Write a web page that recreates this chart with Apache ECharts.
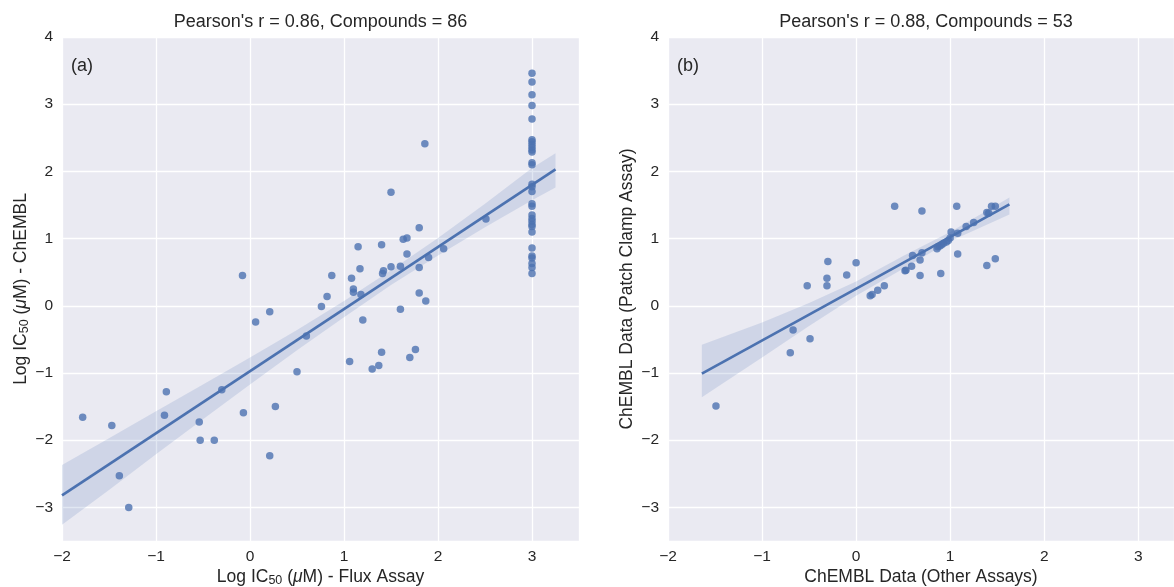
<!DOCTYPE html>
<html>
<head>
<meta charset="utf-8">
<script src="https://cdn.jsdelivr.net/npm/echarts@6/dist/echarts.min.js"></script>
<style>html,body{margin:0;padding:0;background:#fff}#c{width:1174px;height:587px}</style>
</head>
<body>
<div id="c"></div>
<script>
// ---------- Panel (a): Flux assay vs ChEMBL ----------
const aColumnY = [3.46, 3.33, 3.14, 2.98, 2.78, 2.47, 2.44, 2.40, 2.36, 2.32, 2.29, 2.13, 2.10,
  1.81, 1.77, 1.70, 1.52, 1.48, 1.35, 1.30, 1.26, 1.21, 1.18, 1.10, 0.86, 0.74, 0.71, 0.63, 0.57, 0.48];
const aColumnX = aColumnY.map(() => 3);
const aScatterX = [1.86, 1.50, 2.51, 1.80, 1.63, 1.67, 1.40, 1.15, 2.06, 1.67, 1.90, 1.80, 1.50, 1.60,
  1.42, 1.41, 1.17, 0.87, -0.08, 1.08, 1.10, 1.10, 1.18, 1.80, 0.82, 1.87,
  0.76, 0.21, 0.06, 1.60, 1.20, 0.60, 1.40, 1.76, 1.70, 1.06, 1.37, 1.30, 0.50, -0.30, -0.89, 0.27,
  -0.07, -0.91, -1.78, -1.47, -0.54, -0.53, -0.38, 0.21, -1.39, -1.29];
const aScatterY = [2.41, 1.69, 1.29, 1.16, 0.99, 1.01, 0.91, 0.88, 0.85, 0.77, 0.72, 0.57, 0.58, 0.59,
  0.52, 0.48, 0.55, 0.45, 0.45, 0.41, 0.25, 0.20, 0.17, 0.19, 0.14, 0.07,
  -0.01, -0.09, -0.24, -0.05, -0.21, -0.45, -0.69, -0.65, -0.77, -0.83, -0.89, -0.94, -0.98, -1.25, -1.28, -1.50,
  -1.59, -1.63, -1.66, -1.78, -1.73, -2.00, -2.00, -2.23, -2.53, -3.00];
const aLineX = [-2, 3.25];
const aLineY = [-2.82, 2.03];
const aBandX  = [-2, -1.5, -1, -0.5, 0, 0.5, 1, 1.5, 2, 2.5, 3, 3.25];
const aBandHi = [-2.37, -1.97, -1.57, -1.17, -0.77, -0.36, 0.07, 0.53, 1.01, 1.52, 2.05, 2.27];
const aBandLo = [-3.26, -2.74, -2.21, -1.69, -1.17, -0.66, -0.17, 0.31, 0.75, 1.17, 1.57, 1.76];

// ---------- Panel (b): Other assays vs Patch clamp ----------
const bX = [0.41, 0.70, 1.07, 1.44, 1.48, 1.39, 1.41, 1.25, 1.17, 1.01, 1.08, 1.00, 0.96, 0.91, 0.87, 0.86,
  0.70, 0.60, 1.08, 0.68, 1.48, 1.39, 0.59, 0.52, 0.53, 0.68, 0.90, -0.30, 0.00, -0.10, -0.31, -0.31,
  -0.52, 0.30, 0.23, 0.17, 0.15, -0.67, -0.49, -0.70, -1.49, 0.93, 0.98, 0.89];
const bY = [1.48, 1.41, 1.48, 1.48, 1.48, 1.39, 1.38, 1.24, 1.18, 1.10, 1.08, 1.01, 0.95, 0.91, 0.88, 0.85,
  0.79, 0.75, 0.77, 0.68, 0.70, 0.60, 0.59, 0.52, 0.53, 0.45, 0.48, 0.66, 0.64, 0.46, 0.41, 0.30,
  0.30, 0.30, 0.23, 0.17, 0.15, -0.36, -0.49, -0.70, -1.49, 0.93, 0.97, 0.89];
const bLineX = [-1.64, 1.63];
const bLineY = [-1.01, 1.51];
const bBandX  = [-1.64, -1, -0.5, 0, 0.5, 1, 1.63];
const bBandHi = [-0.58, -0.25, 0.04, 0.36, 0.74, 1.10, 1.61];
const bBandLo = [-1.36, -0.77, -0.30, 0.15, 0.55, 0.96, 1.36];

// ---------- Text ----------
const titleA = "Pearson's r = 0.86, Compounds = 86";
const titleB = "Pearson's r = 0.88, Compounds = 53";
const xNameA = "Log IC{sub|50} ({it|μ}M) - Flux Assay";
const yNameA = "Log IC{sub|50} ({it|μ}M) - ChEMBL";
const xNameB = "ChEMBL Data (Other Assays)";
const yNameB = "ChEMBL Data (Patch Clamp Assay)";

const FONT = '"Liberation Sans", Arial, sans-serif';
const TXT = '#262626';
const BLUE = '#4C72B0';

function pairs(xs, ys) { return xs.map((x, i) => [x, ys[i]]); }
function tickFmt(v) {
  if (Math.abs(v - Math.round(v)) > 1e-6) return '';
  v = Math.round(v);
  return v < 0 ? '\u2212' + Math.abs(v) : String(v);
}
const nameStyle = {
  fontFamily: FONT, fontSize: 17.5, color: TXT, lineHeight: 20,
  rich: {
    sub: { fontFamily: FONT, fontSize: 12.5, color: TXT, verticalAlign: 'bottom', lineHeight: 20 },
    it: { fontFamily: FONT, fontSize: 17.5, color: TXT, fontStyle: 'italic', lineHeight: 20 }
  }
};
function xAx(grid, max, name) {
  return {
    type: 'value', gridIndex: grid, min: -2, max: max, splitNumber: 6,
    axisLine: { show: false }, axisTick: { show: false },
    splitLine: { show: true, lineStyle: { color: '#ffffff', width: 1.3 } },
    axisLabel: { formatter: tickFmt, fontFamily: FONT, fontSize: 15.5, color: TXT, margin: 8 },
    name: name, nameLocation: 'middle', nameGap: 26, nameMoveOverlap: false, nameTextStyle: nameStyle
  };
}
function yAx(grid, name, gap) {
  return {
    type: 'value', gridIndex: grid, min: -3.5, max: 4, splitNumber: 8,
    axisLine: { show: false }, axisTick: { show: false },
    splitLine: { show: true, lineStyle: { color: '#ffffff', width: 1.3 } },
    axisLabel: { formatter: tickFmt, fontFamily: FONT, fontSize: 15.5, color: TXT, margin: 9 },
    name: name, nameLocation: 'middle', nameGap: gap, nameRotate: 90, nameTextStyle: nameStyle
  };
}
function band(xs, lo, hi, idx) {
  return {
    type: 'custom', xAxisIndex: idx, yAxisIndex: idx, silent: true, z: 3,
    data: xs.map((x, i) => [x, lo[i], hi[i]]),
    encode: { x: 0, y: [1, 2] },
    renderItem: function (params, api) {
      if (params.dataIndex !== 0) return;
      const pts = [];
      for (let i = 0; i < xs.length; i++) pts.push(api.coord([xs[i], hi[i]]));
      for (let i = xs.length - 1; i >= 0; i--) pts.push(api.coord([xs[i], lo[i]]));
      return { type: 'polygon', shape: { points: pts }, style: { fill: 'rgba(76,114,176,0.17)' } };
    }
  };
}
function scatter(data, idx) {
  return {
    type: 'scatter', xAxisIndex: idx, yAxisIndex: idx, data: data, symbolSize: 7.5, z: 2,
    itemStyle: { color: BLUE, opacity: 0.8 }, silent: true
  };
}
function regLine(xs, ys, idx) {
  return {
    type: 'line', xAxisIndex: idx, yAxisIndex: idx, data: pairs(xs, ys), showSymbol: false, z: 4,
    lineStyle: { color: BLUE, width: 2.7 }, silent: true
  };
}

const chart = echarts.init(document.getElementById('c'), null, { renderer: 'canvas' });
chart.setOption({
  animation: false,
  backgroundColor: '#ffffff',
  grid: [
    { left: 62, top: 37, width: 517, height: 504, show: true, backgroundColor: '#EAEAF2', borderWidth: 0, outerBoundsMode: 'none', containLabel: false },
    { left: 668, top: 37, width: 506, height: 504, show: true, backgroundColor: '#EAEAF2', borderWidth: 0, outerBoundsMode: 'none', containLabel: false }
  ],
  xAxis: [xAx(0, 3.5, xNameA), xAx(1, 3.38, xNameB)],
  yAxis: [yAx(0, yNameA, 31), yAx(1, yNameB, 29)],
  graphic: [
    { type: 'text', x: 320.5, y: 22, style: { text: titleA, font: '18px ' + FONT, fill: TXT, textAlign: 'center', textVerticalAlign: 'middle' } },
    { type: 'text', x: 926, y: 22, style: { text: titleB, font: '18px ' + FONT, fill: TXT, textAlign: 'center', textVerticalAlign: 'middle' } },
    { type: 'text', x: 71, y: 66, z: 10, style: { text: '(a)', font: '18px ' + FONT, fill: TXT, textAlign: 'left', textVerticalAlign: 'middle' } },
    { type: 'text', x: 677, y: 66, z: 10, style: { text: '(b)', font: '18px ' + FONT, fill: TXT, textAlign: 'left', textVerticalAlign: 'middle' } }
  ],
  series: [
    scatter(pairs(aScatterX, aScatterY).concat(pairs(aColumnX, aColumnY)), 0),
    band(aBandX, aBandLo, aBandHi, 0),
    regLine(aLineX, aLineY, 0),
    scatter(pairs(bX, bY), 1),
    band(bBandX, bBandLo, bBandHi, 1),
    regLine(bLineX, bLineY, 1)
  ]
});
</script>
</body>
</html>
